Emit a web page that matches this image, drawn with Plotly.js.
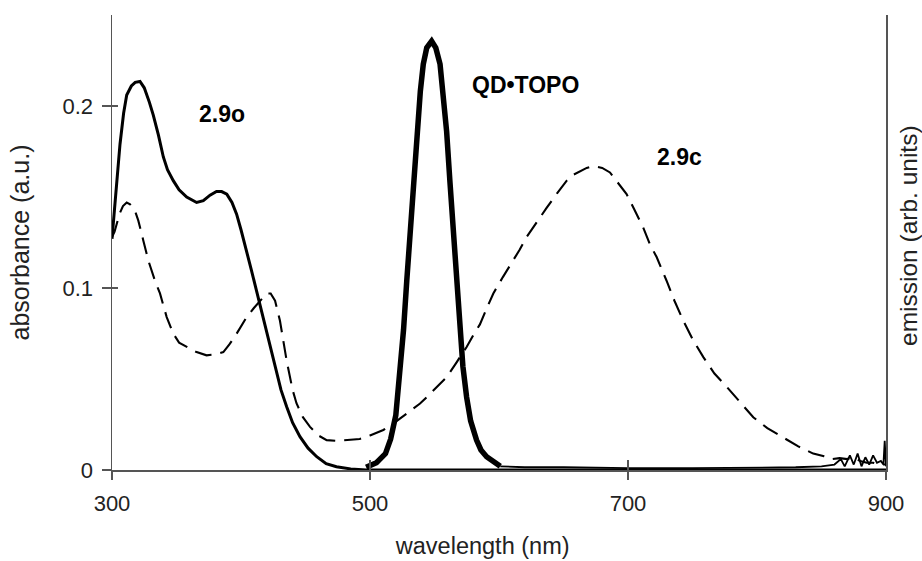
<!DOCTYPE html>
<html>
<head>
<meta charset="utf-8">
<script src="https://cdn.plot.ly/plotly-3.0.1.min.js"></script>
<style>html,body{margin:0;padding:0;background:#fff;}#chart{width:922px;height:561px;}</style>
</head>
<body>
<div id="chart"></div>
<script>
// Absorbance of 2.9o (solid)
const abs29oX = [300,301,302.3,304,306.2,309,311.4,315,318,321.7,325,329,332,336,339.8,343,347.5,352,357.9,365.6,370.8,376,381,385,389,393,396.6,400,404.4,408,412,416,420,424,427.6,431,435.4,440,445.7,452,458.7,466,474,485,497,550,650,750,850,900];
const abs29oY = [0.127,0.135,0.148,0.160,0.179,0.196,0.206,0.211,0.213,0.2135,0.210,0.202,0.195,0.184,0.172,0.165,0.159,0.154,0.150,0.147,0.148,0.151,0.153,0.153,0.1516,0.147,0.1406,0.132,0.1205,0.110,0.0986,0.087,0.0749,0.063,0.053,0.044,0.0347,0.026,0.0183,0.012,0.0073,0.0035,0.0018,0.0006,0,0,0,0,0,0];

// 2.9c absorbance + emission (dashed)
const c29X = [300,302,303.6,306,308.5,311.4,314,316.5,318.5,320.4,324.3,328.2,333.3,337.2,342.4,347.5,352,357.9,365,373.3,380,386.3,391,396.6,404.4,410,414.7,419.9,423,426.4,430.2,435.4,440,443,448,453.5,460,466.4,474,481.9,492,500,510.3,519,528.4,538.8,543.9,551,559.4,567,574.9,580,585.2,590,595.6,603,611.1,616,621.4,629,636.9,645,652.5,657,662.8,668,673.1,680,686,692,698.9,705,711.9,717,722.2,729.9,736,742.9,750,758.4,767,776.5,786,797.1,808,820.4,832,843.6,852,858,864,870,874,880,885,890,895,900];
const c29Y = [0.128,0.131,0.135,0.141,0.145,0.147,0.146,0.144,0.141,0.137,0.126,0.115,0.104,0.097,0.084,0.0749,0.070,0.0676,0.065,0.063,0.0635,0.0648,0.069,0.0749,0.084,0.089,0.093,0.097,0.097,0.093,0.082,0.060,0.044,0.0367,0.029,0.0237,0.019,0.0164,0.016,0.0164,0.017,0.019,0.022,0.026,0.031,0.0365,0.040,0.045,0.051,0.059,0.0676,0.074,0.080,0.088,0.097,0.106,0.115,0.121,0.128,0.136,0.144,0.152,0.159,0.162,0.164,0.166,0.167,0.166,0.1635,0.158,0.1516,0.143,0.133,0.124,0.117,0.104,0.093,0.082,0.072,0.062,0.053,0.0457,0.038,0.029,0.023,0.018,0.013,0.009,0.0075,0.006,0.0065,0.006,0.007,0.005,0.004,0.004,0.003,0.003];

// QD•TOPO emission (thick)
const qdX = [497,505,512,516,520,523,526,528.5,531,533.6,536.2,539,541.3,544,547.8,551,554.3,557,559.4,562,564.5,567,569.8,572,574.9,578,582.6,586,590.4,594,598.1,601];
const qdY = [0.0015,0.004,0.009,0.017,0.030,0.050,0.077,0.104,0.131,0.160,0.186,0.208,0.223,0.232,0.2356,0.232,0.223,0.205,0.186,0.158,0.131,0.104,0.0767,0.057,0.040,0.027,0.0164,0.011,0.0073,0.0052,0.0037,0.002];

// QD•TOPO emission baseline (noisy tail)
const qdTailX = [601,620,650,700,750,800,830,850,860,865,868,872,875,878,881,884,887,890,893,896,898,899,900];
const qdTailY = [0.002,0.0015,0.0015,0.001,0.001,0.0012,0.0015,0.002,0.003,0.006,0.002,0.008,0.003,0.009,0.002,0.007,0.003,0.008,0.004,0.005,0.003,0.016,0.002];

const xTicks = [300,500,700,900];
const yTicks = [0,0.1,0.2];
const yTickText = ['0','0.1','0.2'];

const labels = [
  {text:'2.9o', x:385.3, y:0.1956},
  {text:'QD\u2022TOPO', x:620.2, y:0.2115},
  {text:'2.9c', x:740.3, y:0.172}
];

const FONT = 'Liberation Sans, Arial, sans-serif';
const AX = '#555';
const NB = '\u00a0';
const ZW = '\u200b';

const traces = [
  {x:abs29oX, y:abs29oY, mode:'lines', line:{color:'#000', width:3}, hoverinfo:'skip'},
  {x:c29X, y:c29Y, mode:'lines', line:{color:'#000', width:2.1, dash:'17px,9px'}, hoverinfo:'skip'},
  {x:qdTailX, y:qdTailY, mode:'lines', line:{color:'#000', width:1.8}, hoverinfo:'skip'},
  {x:qdX, y:qdY, mode:'lines', line:{color:'#000', width:5.5}, hoverinfo:'skip'}
];

const layout = {
  width:922, height:561,
  margin:{l:112, r:36, t:15, b:91},
  paper_bgcolor:'#fff', plot_bgcolor:'#fff',
  showlegend:false,
  font:{family:FONT, color:'#222', size:21},
  xaxis:{
    range:[300,900], tickvals:xTicks, ticktext:xTicks.map(String),
    showline:true, linecolor:AX, linewidth:1.5, zeroline:false, showgrid:false,
    ticks:'outside', ticklen:8, tickcolor:AX, tickwidth:1.2,
    tickfont:{family:FONT, size:22, color:'#222'}, ticklabelstandoff:5,
    title:{text:'wavelength (nm)' + NB.repeat(5) + ZW, font:{family:FONT, size:23.5, color:'#222'}, standoff:22},
    automargin:false
  },
  xaxis2:{
    overlaying:'x', range:[300,900], tickvals:xTicks, showticklabels:false,
    ticks:'inside', ticklen:10, tickcolor:AX, tickwidth:1.2, showline:false, showgrid:false, zeroline:false
  },
  yaxis:{
    range:[0,0.25], tickvals:yTicks, ticktext:yTickText,
    showline:true, linecolor:AX, linewidth:1.5, zeroline:false, showgrid:false,
    ticks:'outside', ticklen:9, tickcolor:AX, tickwidth:1.2,
    tickfont:{family:FONT, size:22, color:'#222'}, ticklabelstandoff:4,
    title:{text:'absorbance (a.u.)', font:{family:FONT, size:25, color:'#222'}, standoff:26},
    automargin:false
  },
  yaxis3:{
    overlaying:'y', side:'left', range:[0,0.25], tickvals:yTicks, showticklabels:false,
    ticks:'inside', ticklen:6, tickcolor:AX, tickwidth:1.2, showline:false, showgrid:false, zeroline:false
  },
  yaxis2:{
    overlaying:'y', side:'right', range:[0,0.25], showticklabels:false, ticks:'',
    showline:true, linecolor:AX, linewidth:2, showgrid:false, zeroline:false,
    title:{text:ZW + NB.repeat(2) + 'emission (arb. units)', font:{family:FONT, size:24.5, color:'#222'}, standoff:20},
    automargin:false
  },
  annotations: labels.map(l => ({
    x:l.x, y:l.y, xref:'x', yref:'y', text:'<b>'+l.text+'</b>', showarrow:false,
    font:{family:FONT, size:23, color:'#000'}
  }))
};

// dummy traces to activate the overlay axes
traces.push({x:[300], y:[0], xaxis:'x2', yaxis:'y3', mode:'markers', marker:{opacity:0}, hoverinfo:'skip'});
traces.push({x:[300], y:[0], xaxis:'x', yaxis:'y2', mode:'markers', marker:{opacity:0}, hoverinfo:'skip'});

Plotly.newPlot('chart', traces, layout, {displayModeBar:false, staticPlot:true});
</script>
</body>
</html>
